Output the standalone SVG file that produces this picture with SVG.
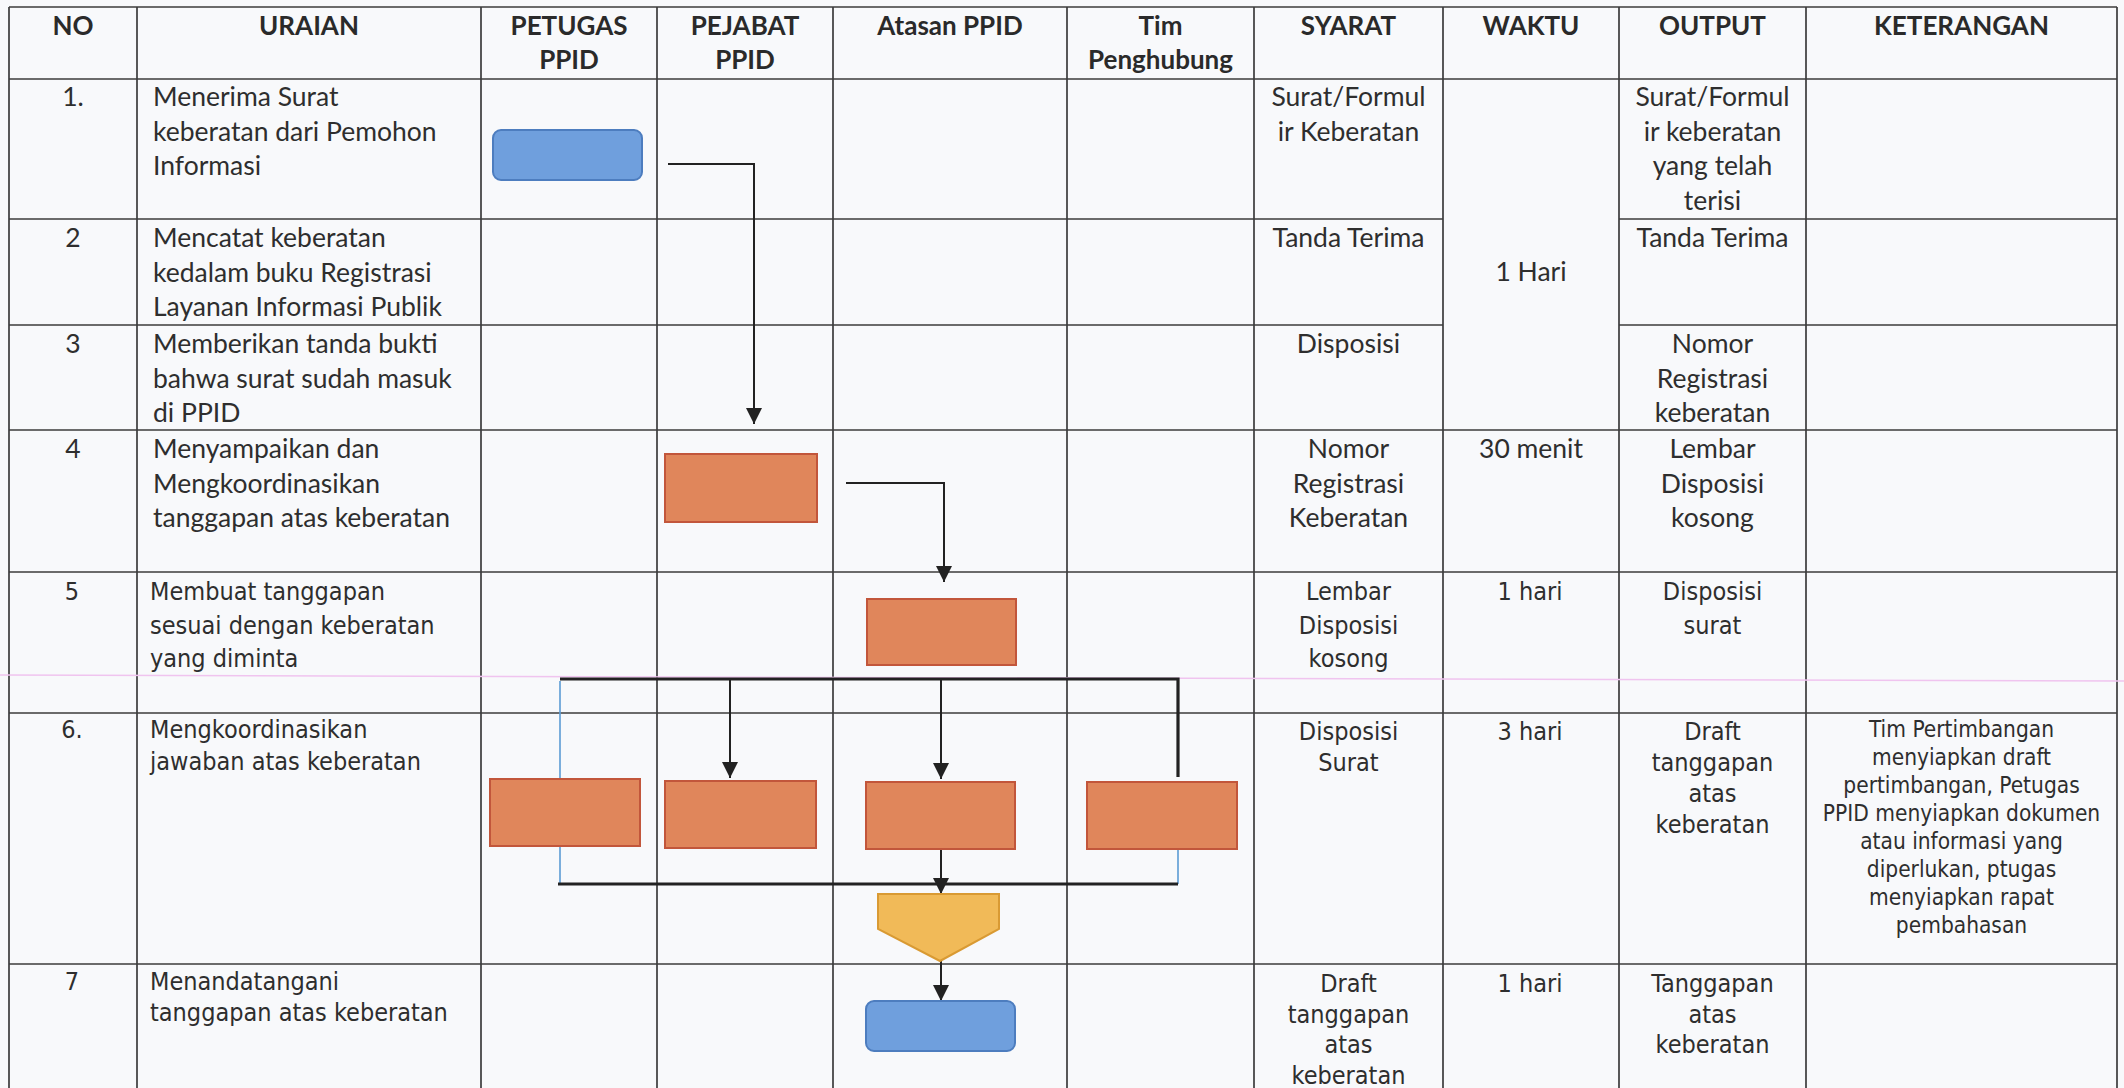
<svg xmlns="http://www.w3.org/2000/svg" width="2124" height="1088" viewBox="0 0 2124 1088">
<style>
.bg{fill:#f8f9fb}
.grid{stroke:#3c3c3c;stroke-width:1.7;fill:none}
.pink{stroke:#f0c4ef;stroke-width:1.5;fill:none}
.hd{font-family:Lato,'Liberation Sans',sans-serif;font-weight:700;font-size:26px;fill:#2a2a2a;text-anchor:middle}
.c{font-family:Lato,'Liberation Sans',sans-serif;font-size:26.5px;fill:#2e2e2e}
.t{font-family:'DejaVu Sans Condensed','DejaVu Sans',sans-serif;font-size:25px;fill:#2e2e2e}
.k{font-family:'DejaVu Sans Condensed','DejaVu Sans',sans-serif;font-size:22.5px;fill:#2e2e2e;text-anchor:middle}
.m{text-anchor:middle}
.blue{fill:#6f9fdd;stroke:#4d7dbf;stroke-width:2}
.org{fill:#e0865b;stroke:#c2563b;stroke-width:2}
.yel{fill:#f1ba58;stroke:#d99a33;stroke-width:2}
.conn{stroke:#222;stroke-width:2;fill:none}
.bar{stroke:#222;stroke-width:3.2;fill:none}
.bl{stroke:#5b9bd5;stroke-width:1.6;fill:none}
</style>
<defs>
<marker id="ah" markerUnits="userSpaceOnUse" markerWidth="16" markerHeight="16" viewBox="0 0 16 16" refX="16" refY="8" orient="auto">
<path d="M0,0 L16,8 L0,16 z" fill="#222"/>
</marker>
</defs>
<rect class="bg" x="0" y="0" width="2124" height="1088"/>
<g id="grid">
<path class="grid" d="M9,7 V1088 M137,7 V1088 M481,7 V1088 M657,7 V1088 M833,7 V1088 M1067,7 V1088 M1254,7 V1088 M1443,7 V1088 M1619,7 V1088 M1806,7 V1088 M2117,7 V1088"/>
<path class="grid" d="M9,7 H2117 M9,79 H2117 M9,219 H1443 M1619,219 H2117 M9,325 H1443 M1619,325 H2117 M9,430 H2117 M9,572 H2117 M9,713 H2117 M9,964 H2117"/>
<path class="pink" d="M0,675 L2124,681"/>
</g>
<g id="header">
<text class="hd" x="73" y="35">NO</text>
<text class="hd" x="309" y="35">URAIAN</text>
<text class="hd" x="569" y="35">PETUGAS</text>
<text class="hd" x="569" y="69">PPID</text>
<text class="hd" x="745" y="35">PEJABAT</text>
<text class="hd" x="745" y="69">PPID</text>
<text class="hd" x="950" y="35">Atasan PPID</text>
<text class="hd" x="1160.5" y="35">Tim</text>
<text class="hd" x="1160.5" y="69">Penghubung</text>
<text class="hd" x="1348.5" y="35">SYARAT</text>
<text class="hd" x="1531" y="35">WAKTU</text>
<text class="hd" x="1712.5" y="35">OUTPUT</text>
<text class="hd" x="1961.5" y="35">KETERANGAN</text>
</g>
<g id="row1">
<text class="c m" x="73" y="106">1.</text>
<text class="c" x="153" y="106">Menerima Surat</text>
<text class="c" x="153" y="140.5">keberatan dari Pemohon</text>
<text class="c" x="153" y="175">Informasi</text>
<text class="c m" x="1348.5" y="106">Surat/Formul</text>
<text class="c m" x="1348.5" y="140.5">ir Keberatan</text>
<text class="c m" x="1531" y="281">1 Hari</text>
<text class="c m" x="1712.5" y="106">Surat/Formul</text>
<text class="c m" x="1712.5" y="140.5">ir keberatan</text>
<text class="c m" x="1712.5" y="175">yang telah</text>
<text class="c m" x="1712.5" y="209.5">terisi</text>
</g>
<g id="row2">
<text class="c m" x="73" y="247">2</text>
<text class="c" x="153" y="247">Mencatat keberatan</text>
<text class="c" x="153" y="281.5">kedalam buku Registrasi</text>
<text class="c" x="153" y="316">Layanan Informasi Publik</text>
<text class="c m" x="1348.5" y="247">Tanda Terima</text>
<text class="c m" x="1712.5" y="247">Tanda Terima</text>
</g>
<g id="row3">
<text class="c m" x="73" y="353">3</text>
<text class="c" x="153" y="353">Memberikan tanda bukti</text>
<text class="c" x="153" y="387.5">bahwa surat sudah masuk</text>
<text class="c" x="153" y="422">di PPID</text>
<text class="c m" x="1348.5" y="353">Disposisi</text>
<text class="c m" x="1712.5" y="353">Nomor</text>
<text class="c m" x="1712.5" y="387.5">Registrasi</text>
<text class="c m" x="1712.5" y="422">keberatan</text>
</g>
<g id="row4">
<text class="c m" x="73" y="458">4</text>
<text class="c" x="153" y="458">Menyampaikan dan</text>
<text class="c" x="153" y="492.5">Mengkoordinasikan</text>
<text class="c" x="153" y="527">tanggapan atas keberatan</text>
<text class="c m" x="1348.5" y="458">Nomor</text>
<text class="c m" x="1348.5" y="492.5">Registrasi</text>
<text class="c m" x="1348.5" y="527">Keberatan</text>
<text class="c m" x="1531" y="458">30 menit</text>
<text class="c m" x="1712.5" y="458">Lembar</text>
<text class="c m" x="1712.5" y="492.5">Disposisi</text>
<text class="c m" x="1712.5" y="527">kosong</text>
</g>
<g id="row5">
<text class="t m" x="72" y="600">5</text>
<text class="t" x="150" y="600">Membuat tanggapan</text>
<text class="t" x="150" y="633.5">sesuai dengan keberatan</text>
<text class="t" x="150" y="667">yang diminta</text>
<text class="t m" x="1348.5" y="600">Lembar</text>
<text class="t m" x="1348.5" y="633.5">Disposisi</text>
<text class="t m" x="1348.5" y="667">kosong</text>
<text class="t m" x="1530" y="600">1 hari</text>
<text class="t m" x="1712.5" y="600">Disposisi</text>
<text class="t m" x="1712.5" y="633.5">surat</text>
</g>
<g id="row6">
<text class="t m" x="72" y="738">6.</text>
<text class="t" x="150" y="738">Mengkoordinasikan</text>
<text class="t" x="150" y="769.5">jawaban atas keberatan</text>
<text class="t m" x="1348.5" y="740">Disposisi</text>
<text class="t m" x="1348.5" y="771">Surat</text>
<text class="t m" x="1530" y="740">3 hari</text>
<text class="t m" x="1712.5" y="740">Draft</text>
<text class="t m" x="1712.5" y="771">tanggapan</text>
<text class="t m" x="1712.5" y="802">atas</text>
<text class="t m" x="1712.5" y="833">keberatan</text>
<text class="k" x="1961.5" y="737">Tim Pertimbangan</text>
<text class="k" x="1961.5" y="765">menyiapkan draft</text>
<text class="k" x="1961.5" y="793">pertimbangan, Petugas</text>
<text class="k" x="1961.5" y="821">PPID menyiapkan dokumen</text>
<text class="k" x="1961.5" y="849">atau informasi yang</text>
<text class="k" x="1961.5" y="877">diperlukan, ptugas</text>
<text class="k" x="1961.5" y="905">menyiapkan rapat</text>
<text class="k" x="1961.5" y="933">pembahasan</text>
</g>
<g id="row7">
<text class="t m" x="72" y="990">7</text>
<text class="t" x="150" y="990">Menandatangani</text>
<text class="t" x="150" y="1021">tanggapan atas keberatan</text>
<text class="t m" x="1348.5" y="992">Draft</text>
<text class="t m" x="1348.5" y="1022.5">tanggapan</text>
<text class="t m" x="1348.5" y="1053">atas</text>
<text class="t m" x="1348.5" y="1083.5">keberatan</text>
<text class="t m" x="1530" y="992">1 hari</text>
<text class="t m" x="1712.5" y="992">Tanggapan</text>
<text class="t m" x="1712.5" y="1022.5">atas</text>
<text class="t m" x="1712.5" y="1053">keberatan</text>
</g>
<g id="connectors">
<path class="conn" d="M668,164 H754 V424" marker-end="url(#ah)"/>
<path class="conn" d="M846,483 H944 V582" marker-end="url(#ah)"/>
<path class="bar" d="M560,679 H1178 V777"/>
<path class="bl" d="M560,681 V779"/>
<path class="conn" d="M730,679 V778" marker-end="url(#ah)"/>
<path class="conn" d="M941,679 V779" marker-end="url(#ah)"/>
<path class="bl" d="M560,846 V884"/>
<path class="bl" d="M1178,849 V884"/>
<path class="bar" d="M558,884 H1178"/>
<path class="conn" d="M941,849 V894" marker-end="url(#ah)"/>
<path class="conn" d="M941,961 V1001" marker-end="url(#ah)"/>
</g>
<g id="n1"><rect class="blue" x="493" y="130" width="149" height="50" rx="8"/></g>
<g id="n4"><rect class="org" x="665" y="454" width="152" height="68"/></g>
<g id="n5"><rect class="org" x="867" y="599" width="149" height="66"/></g>
<g id="n6a"><rect class="org" x="490" y="779" width="150" height="67"/></g>
<g id="n6b"><rect class="org" x="665" y="781" width="151" height="67"/></g>
<g id="n6c"><rect class="org" x="866" y="782" width="149" height="67"/></g>
<g id="n6d"><rect class="org" x="1087" y="782" width="150" height="67"/></g>
<g id="n6e"><path class="yel" d="M878,894 H999 V929 L940,961 L878,929 Z"/></g>
<g id="n7"><rect class="blue" x="866" y="1001" width="149" height="50" rx="8"/></g>
</svg>
